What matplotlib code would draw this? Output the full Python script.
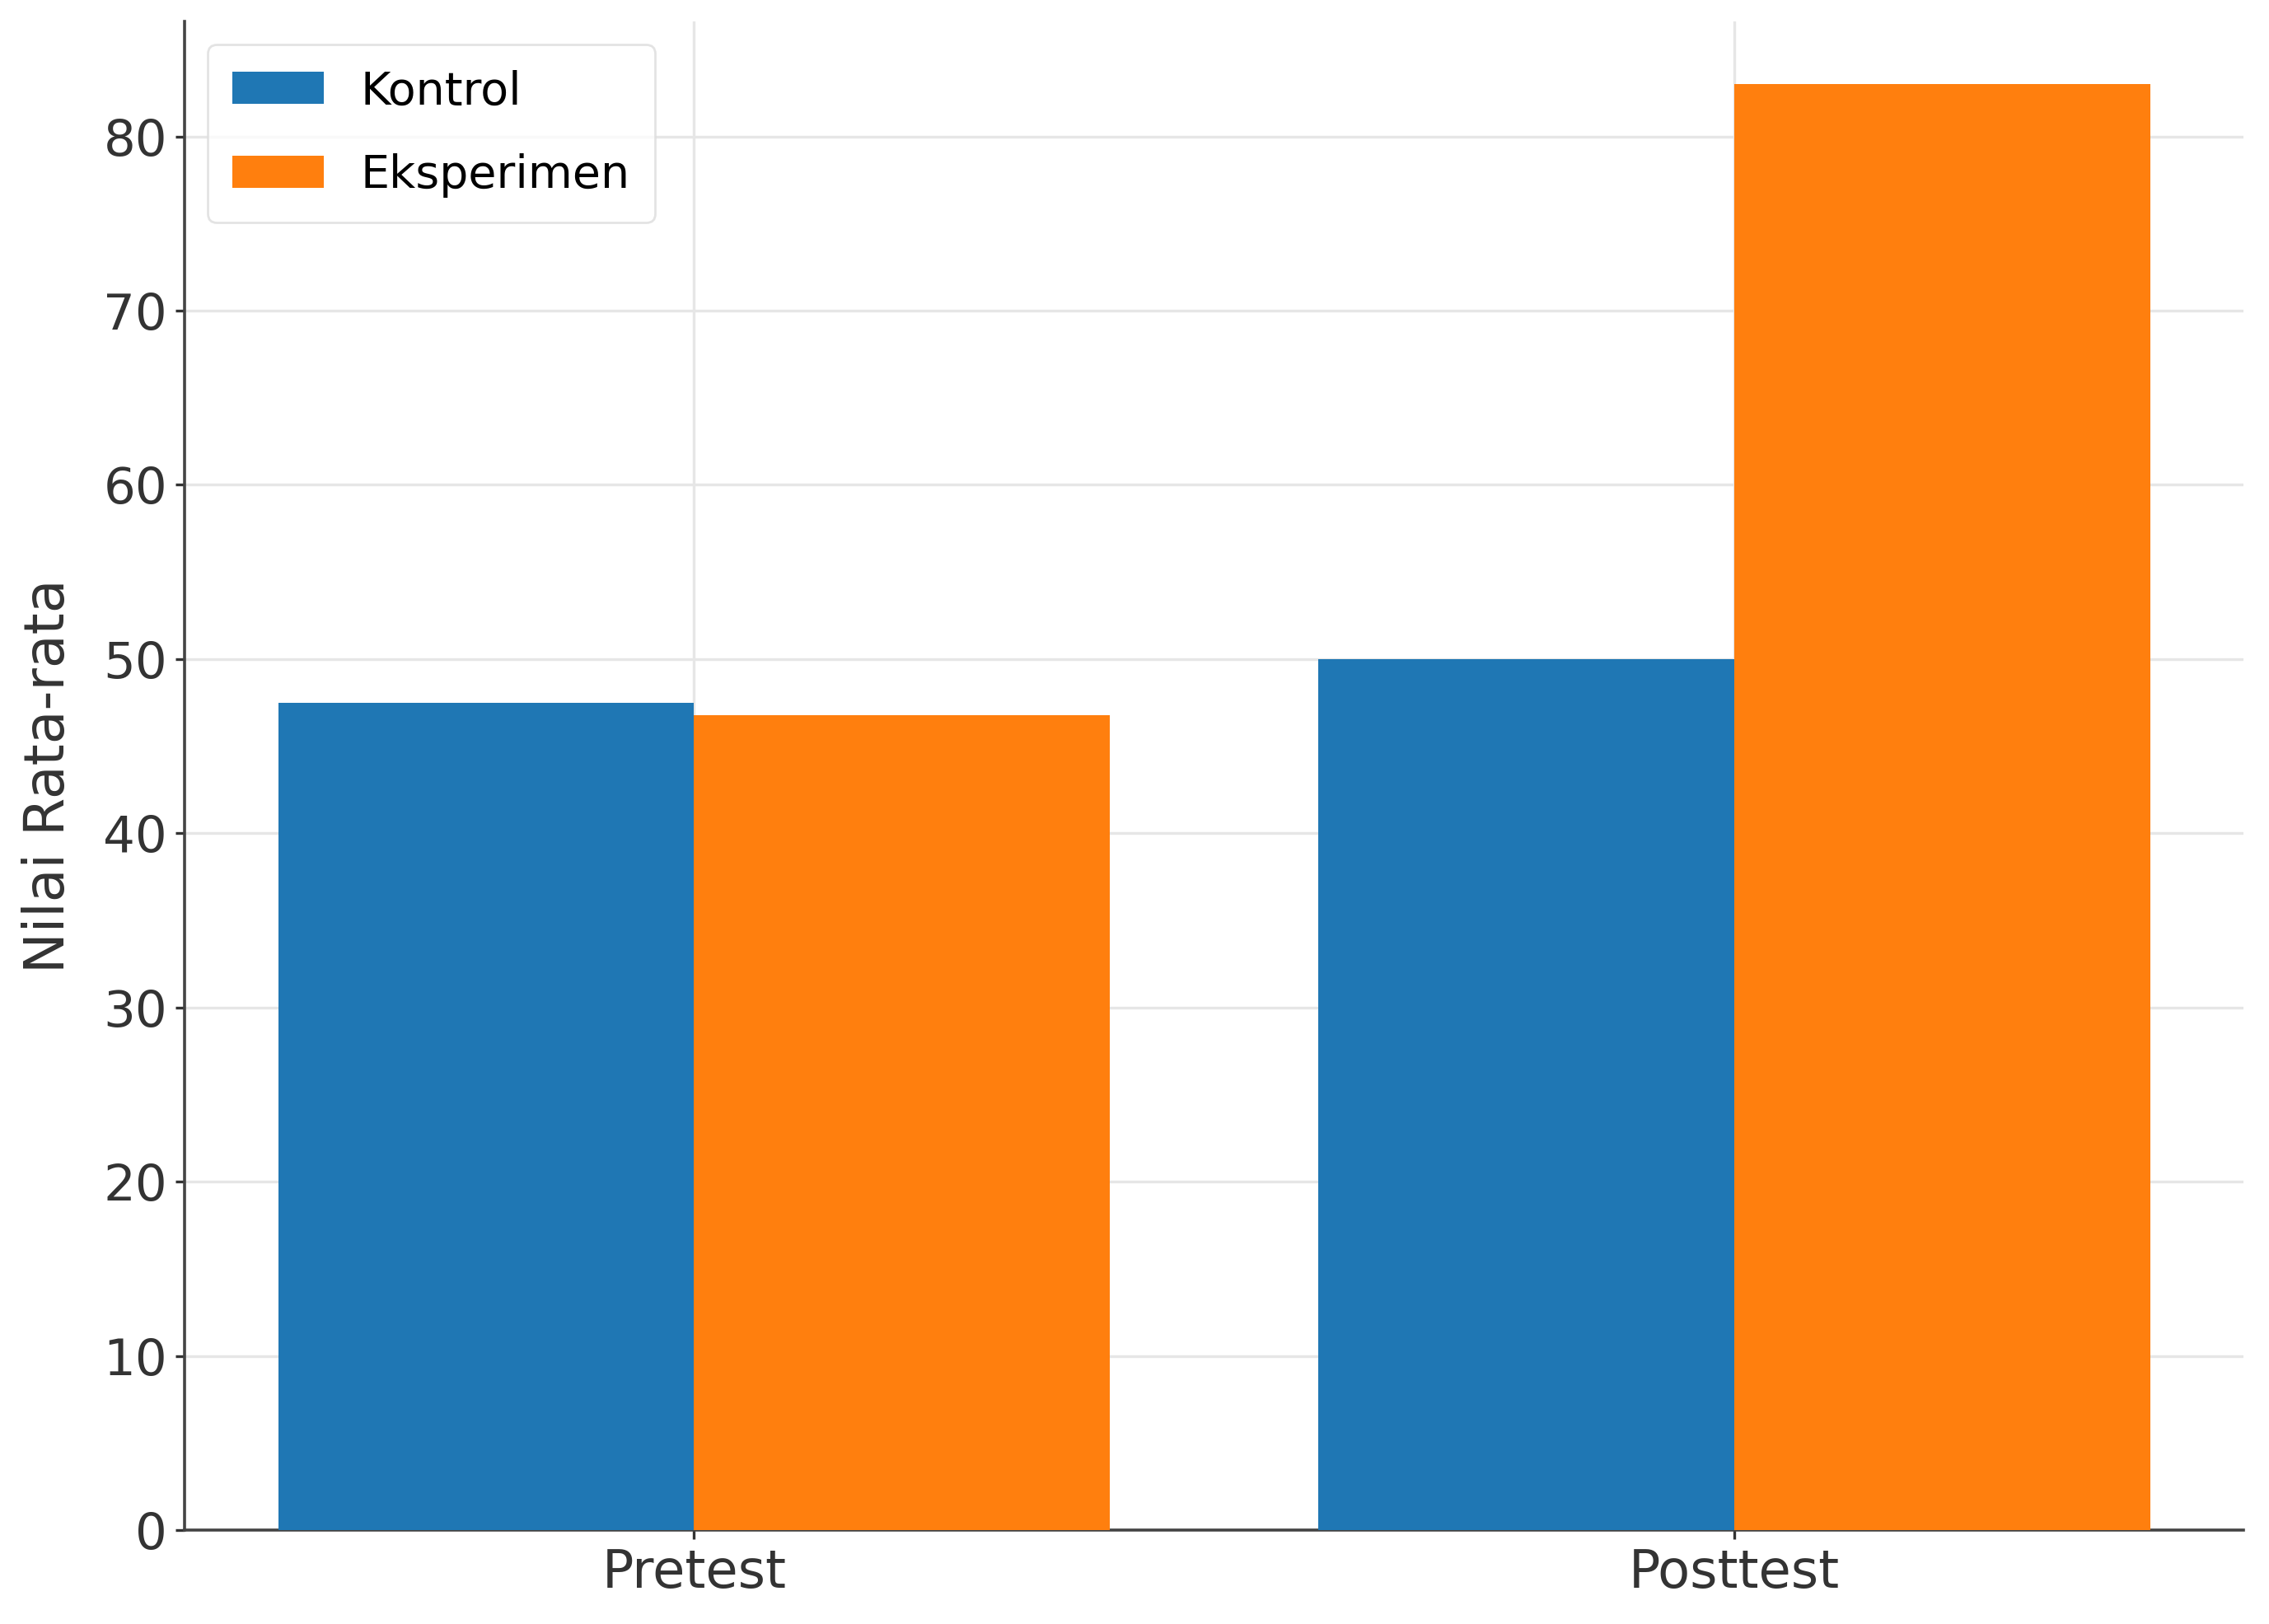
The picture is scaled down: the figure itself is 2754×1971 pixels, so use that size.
import numpy as np
import matplotlib
matplotlib.use("Agg")
import matplotlib.pyplot as plt

# values
groups = ["Pretest", "Posttest"]
kontrol = [47.5, 50.0]
eksperimen = [46.8, 83.0]
series_names = ["Kontrol", "Eksperimen"]

plt.rcParams["font.family"] = ["DejaVu Sans"]

fig = plt.figure(figsize=(13.77, 9.855), dpi=200)
ax = fig.add_axes([0.0813, 0.0578, 0.9075, 0.929])

x = np.arange(len(groups))
width = 0.4
ax.bar(x - width / 2, kontrol, width, label=series_names[0], color="#1f77b4", zorder=3)
ax.bar(x + width / 2, eksperimen, width, label=series_names[1], color="#ff7f0e", zorder=3)

ax.set_xticks(x)
ax.set_xticklabels(groups)
ax.set_yticks(np.arange(0, 81, 10))
ax.set_ylim(0, 86.6)
ax.set_ylabel("Nilai Rata-rata", fontsize=24, color="#333333", labelpad=12)

ax.tick_params(axis="x", labelsize=23, colors="#333333", length=4, width=1.2)
ax.tick_params(axis="y", labelsize=22, colors="#333333", length=4, width=1.2)

ax.grid(True, color="#e6e6e6", linewidth=1.2, zorder=0)
ax.set_axisbelow(True)

for side in ["top", "right"]:
    ax.spines[side].set_visible(False)
for side in ["left", "bottom"]:
    ax.spines[side].set_color("#444444")
    ax.spines[side].set_linewidth(1.3)

ax.legend(loc="upper left", fontsize=20, frameon=True, edgecolor="#dddddd",
          labelspacing=0.85, borderpad=0.55)

fig.savefig("out.png", dpi=200)
